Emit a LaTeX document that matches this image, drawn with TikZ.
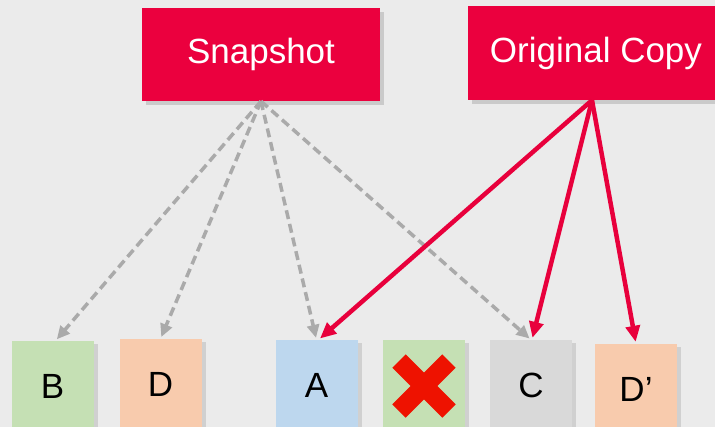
\documentclass[tikz,border=0pt]{standalone}
\usepackage{fontspec}
\setmainfont{Liberation Sans}
\usetikzlibrary{arrows.meta,shadows}
\definecolor{boxred}{RGB}{235,0,62}
\definecolor{arrred}{RGB}{232,0,60}
\definecolor{xred}{RGB}{238,18,0}
\definecolor{dgray}{RGB}{170,170,170}
\definecolor{bgreen}{RGB}{197,224,180}
\definecolor{borange}{RGB}{248,203,173}
\definecolor{bblue}{RGB}{189,215,238}
\definecolor{bgray}{RGB}{217,217,217}
\begin{document}
\begin{tikzpicture}[x=1pt,y=-1pt,
  redbox/.style={fill=boxred, text=white, font=\fontsize{35}{40}\selectfont, inner sep=0pt,
    drop shadow={opacity=0.3, shadow xshift=4pt, shadow yshift=-4pt}},
  smallbox/.style={inner sep=0pt, minimum width=82pt, minimum height=90pt, font=\fontsize{35}{40}\selectfont,
    drop shadow={opacity=0.25, shadow xshift=4pt, shadow yshift=-3pt}},
  grayarrow/.style={draw=dgray, line width=3.5pt, dash pattern=on 9pt off 5pt,
    -{Triangle[length=13pt,width=12pt]}, shorten >=2pt},
  redarrow/.style={draw=arrred, line width=4.5pt, -{Triangle[length=16pt,width=14pt]}, shorten >=2pt}
]
\clip (0,0) rectangle (715,426);
\useasboundingbox (0,0) rectangle (715,426);
\shade[top color=black!8, middle color=black!2, bottom color=black!8] (0,0) rectangle (715,426);

\node[redbox, minimum width=238pt, minimum height=93pt] (snap) at (261,54.5) {Snapshot};
\node[redbox, minimum width=256pt, minimum height=94pt] (orig) at (596,53) {Original Copy};

\node[smallbox, fill=bgreen] (B) at (52.5,386) {B};
\node[smallbox, fill=borange] (D) at (160.5,384) {D};
\node[smallbox, fill=bblue] (A) at (316.5,385) {A};
\node[smallbox, fill=bgreen] (X) at (424,385) {};
\node[smallbox, fill=bgray] (C) at (531,385) {C};
\node[smallbox, fill=borange] (Dp) at (636,389) {D’};

\draw[xred, line width=19pt] (X.center) ++(-25,-24) -- ++(50,50);
\draw[xred, line width=19pt] (X.center) ++(25,-24) -- ++(-50,50);

\draw[grayarrow] (snap.south) -- ([xshift=3pt]B.north);
\draw[grayarrow] (snap.south) -- (D.north);
\draw[grayarrow] (snap.south) -- (A.north);
\draw[grayarrow] (snap.south) -- (C.north);

\draw[redarrow] ([xshift=-4pt]orig.south) -- ([xshift=2pt]A.north);
\draw[redarrow] ([xshift=-4pt]orig.south) -- ([xshift=1pt]C.north);
\draw[redarrow] ([xshift=-4pt]orig.south) -- (Dp.north);
\end{tikzpicture}
\end{document}
